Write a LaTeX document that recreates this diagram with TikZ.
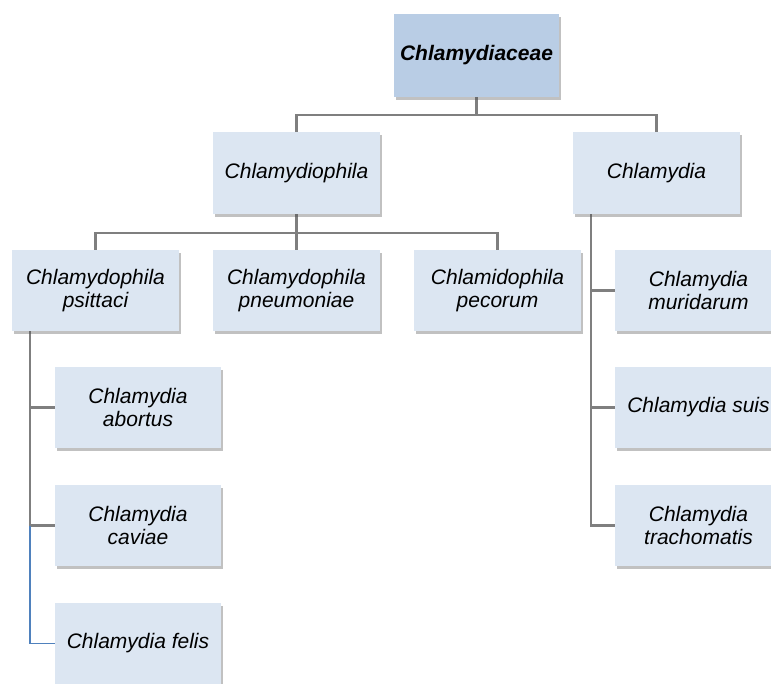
\documentclass[tikz,border=0pt]{standalone}
\usepackage{fontspec}
\setmainfont{Liberation Sans}
\usetikzlibrary{shadows,backgrounds}
\definecolor{rootfill}{HTML}{B9CDE5}
\definecolor{boxfill}{HTML}{DCE6F2}
\definecolor{linegray}{HTML}{7F7F7F}
\definecolor{lineblue}{HTML}{4F81BD}
\tikzset{
  taxbox/.style={draw=none, fill=boxfill, minimum width=167pt, minimum height=82pt,
    inner sep=0pt, align=center, font=\fontsize{21}{23.5}\selectfont\itshape,
    drop shadow={shadow xshift=1.5pt, shadow yshift=-3pt, opacity=0.35, fill=black!70}},
  rootbox/.style={taxbox, fill=rootfill, minimum width=165pt, minimum height=83pt,
    font=\fontsize{21}{23.5}\selectfont\bfseries\itshape},
  conn/.style={draw=linegray, line width=2.5pt},
  connblue/.style={draw=lineblue, line width=1.5pt}
}
\begin{document}
\begin{tikzpicture}[x=1pt,y=1pt]
\useasboundingbox (0,0) rectangle (771,-684);
\clip (0,0) rectangle (771,-684);
\node[rootbox] (root) at (476.5,-55.5) {Chlamydiaceae};
\node[taxbox] (cp) at (296.5,-173) {Chlamydiophila};
\node[taxbox] (c) at (656.5,-173) {Chlamydia};
\node[taxbox, minimum height=81pt] (psi) at (95.5,-290.5) {Chlamydophila\\psittaci};
\node[taxbox, minimum height=81pt] (pne) at (296.5,-290.5) {Chlamydophila\\pneumoniae};
\node[taxbox, minimum height=81pt] (pec) at (497.5,-290.5) {Chlamidophila\\pecorum};
\node[taxbox, minimum height=81pt] (mur) at (698.5,-290.5) {Chlamydia\\muridarum};
\node[taxbox, minimum height=81pt] (sui) at (698.5,-407.5) {Chlamydia suis};
\node[taxbox, minimum height=81pt] (tra) at (698.5,-525.5) {Chlamydia\\trachomatis};
\node[taxbox, minimum width=166pt, minimum height=81pt] (abo) at (138,-407.5) {Chlamydia\\abortus};
\node[taxbox, minimum width=166pt, minimum height=81pt] (cav) at (138,-525.5) {Chlamydia\\caviae};
\node[taxbox, minimum width=166pt, minimum height=81pt] (fel) at (138,-643.5) {Chlamydia felis};
\begin{scope}[on background layer]
  \draw[conn] (root.south) -- ++(0,-18) -| (cp.north);
  \draw[conn] (root.south) -- ++(0,-18) -| (c.north);
  \draw[conn] (cp.south) -- ++(0,-19) -| (psi.north);
  \draw[conn] (cp.south) -- (pne.north);
  \draw[conn] (cp.south) -- ++(0,-19) -| (pec.north);
  \coordinate (cl) at ([xshift=18pt]c.south west);
  \draw[conn] (cl) |- (mur.west);
  \draw[conn] (cl) |- (sui.west);
  \draw[conn] (cl) |- (tra.west);
  \coordinate (pl) at ([xshift=18pt]psi.south west);
  \draw[conn] (pl) |- (abo.west);
  \draw[conn] (pl) |- (cav.west);
  \draw[connblue] (pl |- cav.west) |- (fel.west);
\end{scope}
\end{tikzpicture}
\end{document}
